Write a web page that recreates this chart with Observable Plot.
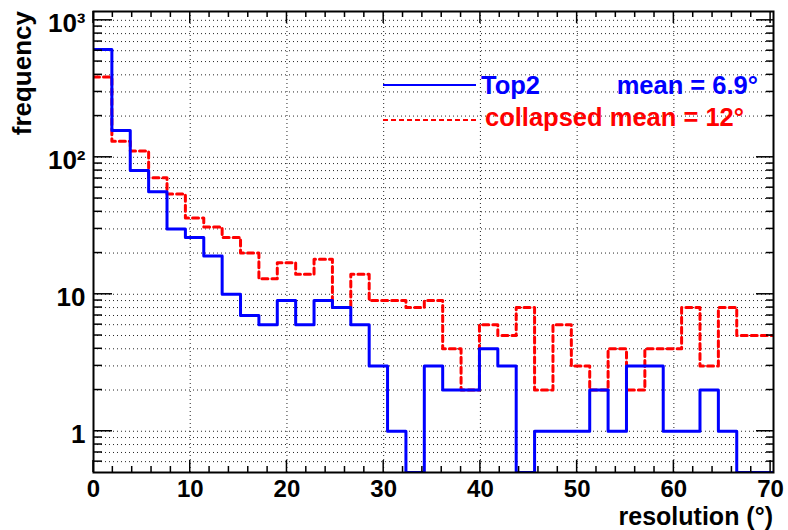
<!DOCTYPE html>
<html><head><meta charset="utf-8">
<script src="https://cdn.jsdelivr.net/npm/d3@7"></script>
<script src="https://cdn.jsdelivr.net/npm/@observablehq/plot@0.6"></script>
<style>
body{margin:0;background:#fff}
#chart svg{font-family:"Liberation Sans",Arial,Helvetica,sans-serif;font-weight:bold;background:#fff}
</style>
</head><body><div id="chart"></div>
<script>
// ---- data ----
const binWidth = 1.9;                       // degrees per bin, 37 bins from 0 to 70.3
const top2 =      [613,157,80,56,30,26,19,10,7,6,9,6,9,8,6,3,1,0,3,2,2,4,3,0,1,1,1,2,1,3,3,1,1,2,1,0,0];
const collapsed = [385,131,111,71,54,36,31,26,20,13,17,14,18,8,14,9,9,8,9,4,2,6,5,8,2,6,3,2,4,2,4,4,8,3,8,5,5];
const seriesNames = ["Top2", "collapsed"];
const seriesMeans = ["6.9", "12"];
const seriesColors = ["#0000ff", "#ff0000"];
const xTicks = [0,10,20,30,40,50,60,70];
const yMajorTicks = [1,10,100,1000];
const yTickLabels = ["1","10","10\u00b2","10\u00b3"];
const xTitle = "resolution (\u00b0)";
const yTitle = "frequency";

(function () {
const nBins = top2.length;
const xMax = nBins * binWidth;
const yMin = 0.5, yMax = 1160;

function stepData(values, name) {
  const pts = values.map((v, i) => ({x: i * binWidth, y: v > 0 ? v : yMin, s: name}));
  pts.push({x: values.length * binWidth, y: pts[pts.length - 1].y, s: name});
  return pts;
}
const blueData = stepData(top2, seriesNames[0]);
const redData = stepData(collapsed, seriesNames[1]);

const yGrid = [];
for (let e = -1; e <= 3; e++) for (let k = 1; k <= 9; k++) {
  const v = k * Math.pow(10, e);
  if (v > yMin && v < yMax) yGrid.push(v);
}
const xMinor = d3.range(2, 70.01, 2).filter(v => v % 10 !== 0);
const labelOf = new Map(yMajorTicks.map((v, i) => [v, yTickLabels[i]]));

const plot = Plot.plot({
  width: 788, height: 530,
  marginLeft: 93, marginRight: 15, marginTop: 11, marginBottom: 58,
  x: {domain: [0, xMax]},
  y: {type: "log", domain: [yMin, yMax]},
  marks: [
    Plot.gridY(yGrid, {stroke: "#000", strokeOpacity: 0.85, strokeDasharray: "1,3"}),
    Plot.gridX(xTicks.slice(1, -1), {stroke: "#000", strokeOpacity: 0.85, strokeDasharray: "1,3"}),
    Plot.axisX(xTicks, {tickSize: 0, tickPadding: 7, fontSize: 24, fontWeight: "bold", label: null, fill: "#000"}),
    Plot.axisY(yMajorTicks, {tickSize: 0, tickPadding: 8, fontSize: 26, fontWeight: "bold", label: null, fill: "#000",
      tickFormat: d => labelOf.get(d), dy: 3}),
    Plot.line(redData, {x: "x", y: "y", curve: "step-after", stroke: seriesColors[1], strokeWidth: 3, strokeDasharray: "6,4", clip: true}),
    Plot.line(blueData, {x: "x", y: "y", curve: "step-after", stroke: seriesColors[0], strokeWidth: 3, clip: true}),
    Plot.frame({stroke: "#000", strokeWidth: 2})
  ]
});
document.getElementById("chart").appendChild(plot);

// ---- ROOT-style inward ticks, titles and legend ----
const svg = d3.select(plot);
const xs = plot.scale("x"), ys = plot.scale("y");
const X = v => xs.apply(v), Y = v => ys.apply(v);
const fLeft = X(0), fRight = X(xMax), fTop = Y(yMax), fBottom = Y(yMin);
const g = svg.append("g").attr("stroke", "#000").attr("stroke-width", 1.5);
xTicks.forEach(v => {
  g.append("line").attr("x1", X(v)).attr("x2", X(v)).attr("y1", fBottom).attr("y2", fBottom - 12);
  g.append("line").attr("x1", X(v)).attr("x2", X(v)).attr("y1", fTop).attr("y2", fTop + 12);
});
xMinor.forEach(v => {
  g.append("line").attr("x1", X(v)).attr("x2", X(v)).attr("y1", fBottom).attr("y2", fBottom - 6);
  g.append("line").attr("x1", X(v)).attr("x2", X(v)).attr("y1", fTop).attr("y2", fTop + 6);
});
yGrid.forEach(v => {
  const len = yMajorTicks.includes(v) ? 19 : 9;
  g.append("line").attr("y1", Y(v)).attr("y2", Y(v)).attr("x1", fLeft).attr("x2", fLeft + len);
  g.append("line").attr("y1", Y(v)).attr("y2", Y(v)).attr("x1", fRight).attr("x2", fRight - len + 2);
});

svg.append("text").attr("x", fRight).attr("y", 525).attr("text-anchor", "end")
  .attr("font-size", 25).attr("font-weight", "bold").attr("fill", "#000").text(xTitle);
svg.append("text").attr("transform", `translate(31,${fTop}) rotate(-90)`).attr("text-anchor", "end")
  .attr("font-size", 26).attr("font-weight", "bold").attr("fill", "#000").text(yTitle);

const leg = svg.append("g").attr("font-size", 25.5).attr("font-weight", "bold").attr("text-anchor", "start");
leg.append("line").attr("x1", 383).attr("x2", 476).attr("y1", 85).attr("y2", 85)
  .attr("stroke", seriesColors[0]).attr("stroke-width", 2);
leg.append("text").attr("x", 481).attr("y", 94).attr("fill", seriesColors[0]).text(seriesNames[0]);
leg.append("text").attr("x", 758).attr("y", 94).attr("text-anchor", "end").attr("fill", seriesColors[0])
  .text(`mean = ${seriesMeans[0]}\u00b0`);
leg.append("line").attr("x1", 383).attr("x2", 476).attr("y1", 120).attr("y2", 120)
  .attr("stroke", seriesColors[1]).attr("stroke-width", 2).attr("stroke-dasharray", "5,3");
leg.append("text").attr("x", 485).attr("y", 126).attr("fill", seriesColors[1])
  .text(`${seriesNames[1]} mean = ${seriesMeans[1]}\u00b0`);
})();
</script>
</body></html>
